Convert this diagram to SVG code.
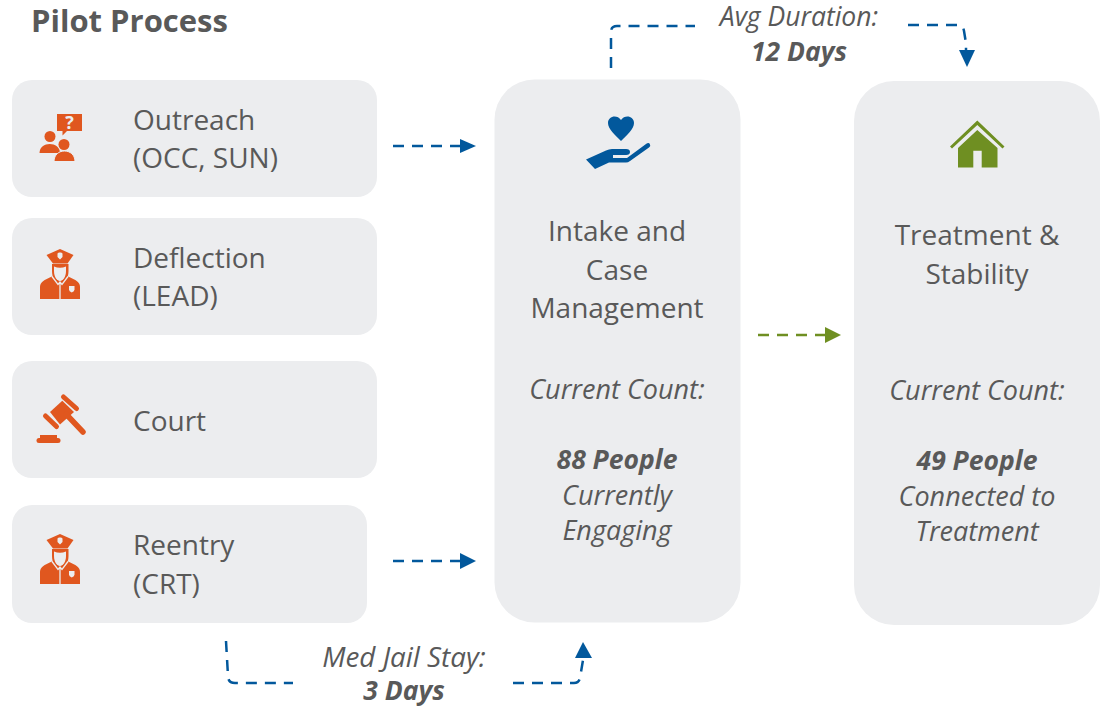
<svg xmlns="http://www.w3.org/2000/svg" width="1105" height="707" viewBox="0 0 1105 707">
<style>
text{font-family:"Open Sans","Liberation Sans",sans-serif;fill:#595959;font-size:28px}
.c{text-anchor:middle}
.i{font-style:italic;font-size:27px}
.b{font-weight:700;font-style:italic;font-size:26.5px}
.box{fill:#ecedef}
.o{fill:#e0571f}
.w{fill:none;stroke:#ecedef;stroke-width:1.3}
.bl{fill:none;stroke:#02589c;stroke-width:2.5;stroke-dasharray:11 8}
.gr{fill:none;stroke:#6f8f22;stroke-width:2.5;stroke-dasharray:11 8}
</style>
<defs>
<g id="officer">
<path class="o" d="M60 0L73.5 6 67.5 14.5H53L46.5 6z"/>
<path d="M60 3.5a2.5 2.5 0 0 1 2.500 1V8L60 10.500 57.500 8V4.500a2.500 2.500 0 0 1 2.500-1z" fill="#ecedef"/>
<path class="o" d="M52 15H68.500V22C68.500 30 64 35 60 35S52 30 52 22z"/>
<path d="M54 17.500Q60 20 66 17.500V22C66 28 63 32 60 32S54 28 54 22z" fill="#ecedef"/>
<path class="o" d="M40 50V38C40 33 44 31 52 27.500L60 33 68 27.500C76 31 80 33 80 38V50z"/>
<path class="w" d="M52 27.500L58 35.500 60 33 62 35.500 68 27.500M60 33V50"/>
<path d="M69 37h5.500v3.500q0 2-2.750 3-2.750-1-2.750-3z" fill="#ecedef"/>
</g>
</defs>

<text x="31" y="32" style="font-size:31px;font-weight:700">Pilot Process</text>

<g id="connectors">
<path class="bl" d="M393 146H464"/><path d="M460 139l16 7-16 7z" fill="#02589c"/>
<path class="bl" d="M393 561H464"/><path d="M460 553l16 8-16 8z" fill="#02589c"/>
<path class="gr" d="M758 335H828"/><path d="M825 327l16 8-16 8z" fill="#6f8f22"/>
<path class="bl" d="M611 68V32q0-6 6-6H695"/>
<path class="bl" d="M908 25H958q5 0 6 6l2 12V52"/><path d="M959 50h16l-8 17z" fill="#02589c"/>
<path class="bl" d="M226 641L228 676q0 7 7 7H293"/>
<path class="bl" d="M513 683H574q5 0 6-5L584 654"/><path d="M575 658l8-16 9 16z" fill="#02589c"/>
</g>

<g id="outreach">
<rect class="box" x="12" y="80" width="365" height="117" rx="20"/>
<path class="o" d="M57 114H82V131H67L62.500 135.500V131H57z"/>
<text x="69.500" y="129" class="c" style="font-size:18px;font-weight:700;fill:#ecedef">?</text>
<circle class="o" cx="50" cy="136.500" r="5.500"/>
<path class="o" d="M39.500 153C39.500 141 60 141 60 153z"/>
<circle cx="64" cy="144.500" r="6.500" fill="#ecedef"/>
<circle class="o" cx="64" cy="144.500" r="5.500"/>
<path class="o" d="M54 161.500C54 147.500 75 147.500 75 161.500z" stroke="#ecedef" stroke-width="1"/>
<text x="133" y="130">Outreach</text><text x="133" y="168">(OCC, SUN)</text>
</g>
<g id="deflection">
<rect class="box" x="12" y="218" width="365" height="117" rx="20"/>
<use href="#officer" x="0" y="249"/>
<text x="133" y="268">Deflection</text><text x="133" y="306">(LEAD)</text>
</g>
<g id="court">
<rect class="box" x="12" y="361" width="365" height="117" rx="20"/>
<g class="o">
<path d="M50 412L62.300 400.700 74 412 60 424.500z"/>
<path d="M63.500 397L76.500 408.500M45.500 416L56.500 426.500" stroke="#e0571f" stroke-width="5" stroke-linecap="round" fill="none"/>
<path d="M66 414L83 432" stroke="#e0571f" stroke-width="5.500" stroke-linecap="round" fill="none"/>
<rect x="40" y="435" width="17" height="4"/>
<rect x="36.500" y="438" width="24" height="5" rx="2.500"/>
</g>
<text x="133" y="431">Court</text>
</g>
<g id="reentry">
<rect class="box" x="12" y="505" width="355" height="118" rx="20"/>
<use href="#officer" x="0" y="534"/>
<text x="133" y="555">Reentry</text><text x="133" y="594">(CRT)</text>
</g>
<g id="intake">
<rect class="box" x="494.500" y="79.500" width="246" height="543" rx="40"/>
<path fill="#02589c" d="M621 141C615 135 608 129 608 123C608 116 617 114 621 120C625 114 634 116 634 123C634 129 627 135 621 141z"/>
<path fill="#02589c" d="M586 159.500L606 150.500Q609 149 612 149H626Q630 149 630 152Q630 155 626 155H613V158H627L646 144Q649 142 650 144.500Q651 146 649 147.500L630 161Q628 162.500 626 162.500H609L595 169z"/>
<text class="c" x="617" y="241">Intake and</text>
<text class="c" x="617" y="280">Case</text>
<text class="c" x="617" y="318">Management</text>
<text class="c i" x="617" y="399">Current Count:</text>
<text class="c b" x="617" y="469">88 People</text>
<text class="c i" x="617" y="505">Currently</text>
<text class="c i" x="617" y="540">Engaging</text>
</g>
<g id="treatment">
<rect class="box" x="854" y="81" width="246" height="544" rx="40"/>
<path fill="#6f8f22" d="M977.300 120.500L1004.500 146.500 1002.500 148.500 977.300 125 952 148.500 950 146.500z"/>
<path fill="#6f8f22" d="M977.300 130L997.500 148V167.500H981.700V150.700H973.300V167.500H958V148z"/>
<text class="c" x="977" y="245">Treatment &amp;</text>
<text class="c" x="977" y="284">Stability</text>
<text class="c i" x="977" y="400">Current Count:</text>
<text class="c b" x="977" y="470">49 People</text>
<text class="c i" x="977" y="506">Connected to</text>
<text class="c i" x="977" y="541">Treatment</text>
</g>
<g id="labels">
<text class="c i" x="799" y="26" style="font-size:26.500px">Avg Duration:</text>
<text class="c b" x="799" y="61">12 Days</text>
<text class="c i" x="404" y="667" style="font-size:27.800px">Med Jail Stay:</text>
<text class="c b" x="404" y="700">3 Days</text>
</g>
</svg>
